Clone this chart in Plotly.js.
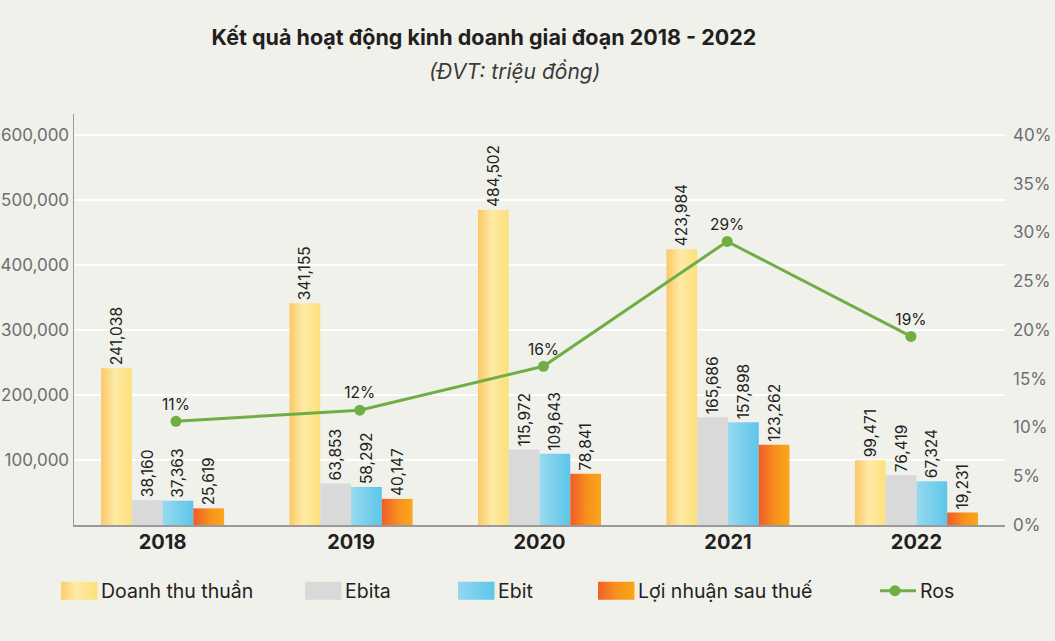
<!DOCTYPE html>
<html>
<head>
<meta charset="utf-8">
<script src="https://cdn.plot.ly/plotly-3.0.1.min.js"></script>
<style>
  html, body { margin: 0; padding: 0; background: #f1f1ec; }
  #chart { width: 1055px; height: 641px; }
</style>
</head>
<body>
<div id="chart"></div>
<script>
// ---- Data ----
const years = ['2018', '2019', '2020', '2021', '2022'];
const doanhThuThuan = [241038, 341155, 484502, 423984, 99471];
const ebita = [38160, 63853, 115972, 165686, 76419];
const ebit = [37363, 58292, 109643, 157898, 67324];
const loiNhuanSauThue = [25619, 40147, 78841, 123262, 19231];
const ros = [10.63, 11.77, 16.27, 29.07, 19.33];
const leftTicks = [100000, 200000, 300000, 400000, 500000, 600000];
const rightTicks = [0, 5, 10, 15, 20, 25, 30, 35, 40];
const rightTickLabels = ['0%', '5%', '10%', '15%', '20%', '25%', '30%', '35%', '40%'];
const seriesNames = ['Doanh thu thuần', 'Ebita', 'Ebit', 'Lợi nhuận sau thuế', 'Ros'];

const FONT = 'Inter, "Open Sans", sans-serif';
const DARK = '#231f20';
const GREY = '#6d6e71';

const barText = {
  textposition: 'outside',
  textangle: -90,
  texttemplate: '%{y:,}',
  constraintext: 'none',
  outsidetextfont: { family: FONT, size: 15.5, color: DARK },
  cliponaxis: false,
  hoverinfo: 'skip'
};

const traces = [
  Object.assign({ type: 'bar', name: seriesNames[0], x: years, y: doanhThuThuan,
    marker: { color: '#fde38f' }, legend: 'legend' }, barText),
  Object.assign({ type: 'bar', name: seriesNames[1], x: years, y: ebita,
    marker: { color: '#d9d9d9' }, legend: 'legend2' }, barText),
  Object.assign({ type: 'bar', name: seriesNames[2], x: years, y: ebit,
    marker: { color: '#73cdeb' }, legend: 'legend3' }, barText),
  Object.assign({ type: 'bar', name: seriesNames[3], x: years, y: loiNhuanSauThue,
    marker: { color: '#f7861f' }, legend: 'legend4' }, barText),
  { type: 'scatter', mode: 'lines+markers+text', name: seriesNames[4], x: years, y: ros,
    xaxis: 'x2', yaxis: 'y2', legend: 'legend5',
    line: { color: '#6fad45', width: 3 },
    marker: { color: '#6fad45', size: 11 },
    texttemplate: '%{y:.0f}%', textposition: 'top center',
    textfont: { family: FONT, size: 15.5, color: DARK },
    cliponaxis: false, hoverinfo: 'skip' }
];

const plotL = 74, plotR = 1005, plotT = 114, plotB = 525;
const pw = plotR - plotL, ph = plotB - plotT;
function px2x(p) { return (p - plotL) / pw; }
function py2y(p) { return (plotB - p) / ph; }

function legendAt(px) {
  return { x: px2x(px), xanchor: 'left', y: py2y(591), yanchor: 'middle',
    orientation: 'h', bgcolor: 'rgba(0,0,0,0)', borderwidth: 0,
    font: { family: FONT, size: 19.5, color: DARK } };
}

const layout = {
  width: 1055, height: 641,
  paper_bgcolor: '#f1f1ec', plot_bgcolor: '#f1f1ec',
  margin: { l: plotL, r: 1055 - plotR, t: plotT, b: 641 - plotB, pad: 0 },
  font: { family: FONT, color: DARK },
  title: { text: '<b>Kết quả hoạt động kinh doanh giai đoạn 2018 - 2022</b>',
    x: 484 / 1055, xanchor: 'center', xref: 'container',
    y: 1 - 37 / 641, yanchor: 'middle', yref: 'container',
    font: { family: FONT, size: 21.5, color: DARK } },
  annotations: [{
    text: '<i>(ĐVT: triệu đồng)</i>', xref: 'paper', yref: 'paper',
    x: px2x(514), y: py2y(72), xanchor: 'center', yanchor: 'middle',
    showarrow: false, font: { family: FONT, size: 21, color: '#3a3a3a' }
  }],
  barmode: 'group', bargap: 0.347, bargroupgap: 0,
  xaxis: { type: 'category', range: [-0.47, 4.47], showline: true, linecolor: '#9a9a9a',
    linewidth: 2, ticks: '', showgrid: false, zeroline: false,
    tickfont: { family: FONT, size: 20, color: DARK, weight: 'bold' }, ticklabelstandoff: -2 },
  xaxis2: { type: 'category', overlaying: 'x', range: [-0.555, 4.512], visible: false },
  yaxis: { range: [0, 632000], tickvals: leftTicks, tickformat: ',', showgrid: true,
    gridcolor: '#ffffff', gridwidth: 2, showline: true, linecolor: '#9a9a9a', linewidth: 1.5,
    zeroline: false, ticks: '', tickfont: { family: FONT, size: 17, color: GREY } },
  yaxis2: { overlaying: 'y', side: 'right', range: [0, 632000 / 600000 * 40],
    tickvals: rightTicks, ticktext: rightTickLabels,
    showgrid: false, zeroline: false, showline: false, ticks: '',
    tickfont: { family: FONT, size: 17, color: GREY }, ticklabelstandoff: 7 },
  legend: legendAt(61),
  legend2: legendAt(305),
  legend3: legendAt(458),
  legend4: legendAt(598),
  legend5: legendAt(880),
  showlegend: true
};

const gradients = {
  'Doanh thu thuần': [['0%', '#fcc865'], ['45%', '#feeaa6'], ['100%', '#fde07a']],
  'Ebit': [['0%', '#98d9ef'], ['100%', '#5cc6e9']],
  'Lợi nhuận sau thuế': [['0%', '#f15a29'], ['55%', '#f7921d'], ['100%', '#faa61a']]
};
const gradIds = {};

function ensureDefs(gd) {
  const NS = 'http://www.w3.org/2000/svg';
  const svg = gd.querySelector('svg.main-svg');
  let defs = svg.querySelector('defs');
  if (!defs) { defs = document.createElementNS(NS, 'defs'); svg.insertBefore(defs, svg.firstChild); }
  Object.keys(gradients).forEach(function (name, i) {
    const id = 'customgrad' + i;
    gradIds[name] = id;
    if (document.getElementById(id)) return;
    const lg = document.createElementNS(NS, 'linearGradient');
    lg.setAttribute('id', id);
    lg.setAttribute('x1', '0'); lg.setAttribute('y1', '0');
    lg.setAttribute('x2', '1'); lg.setAttribute('y2', '0');
    gradients[name].forEach(function (s) {
      const st = document.createElementNS(NS, 'stop');
      st.setAttribute('offset', s[0]);
      st.setAttribute('stop-color', s[1]);
      lg.appendChild(st);
    });
    defs.appendChild(lg);
  });
}

function traceOf(el) {
  let n = el;
  while (n && n !== document) {
    const d = n.__data__;
    if (d) {
      if (Array.isArray(d) && d[0] && d[0].trace) return d[0].trace;
      if (d.trace) return d.trace;
      if (Array.isArray(d) && Array.isArray(d[0]) && d[0][0] && d[0][0].trace) return d[0][0].trace;
    }
    n = n.parentNode;
  }
  return null;
}

function applyStyling() {
  const gd = document.getElementById('chart');
  ensureDefs(gd);
  gd.querySelectorAll('.barlayer .trace').forEach(function (g) {
    const tr = traceOf(g); if (!tr) return;
    if (gradIds[tr.name]) g.querySelectorAll('path').forEach(function (p) {
      p.style.fill = 'url(#' + gradIds[tr.name] + ')';
    });
  });
  gd.querySelectorAll('g.legendpoints').forEach(function (g) {
    const tr = traceOf(g); if (!tr) return;
    g.setAttribute('transform', tr.type === 'bar' ? 'translate(-3,0)' : 'translate(-5,0)');
  });
  gd.querySelectorAll('.legendpoints path').forEach(function (p) {
    const tr = traceOf(p); if (!tr) return;
    if (tr.type === 'bar') {
      p.setAttribute('d', 'M19.5,9H-19.5V-9H19.5Z');
      if (gradIds[tr.name]) p.style.fill = 'url(#' + gradIds[tr.name] + ')';
    }
  });
  gd.querySelectorAll('g.legendlines path, path.js-line').forEach(function (p) {
    if (!p.closest('.infolayer')) return;
    const inPoints = !!p.closest('.legendpoints');
    p.setAttribute('d', inPoints ? 'M-1,0h42' : 'M-6,0h42');
  });
}

const gd = document.getElementById('chart');
Plotly.newPlot(gd, traces, layout, { staticPlot: true, displayModeBar: false })
  .then(function () {
    applyStyling();
    gd.on('plotly_afterplot', applyStyling);
    setTimeout(applyStyling, 50);
    setTimeout(applyStyling, 300);
  });
</script>
</body>
</html>
